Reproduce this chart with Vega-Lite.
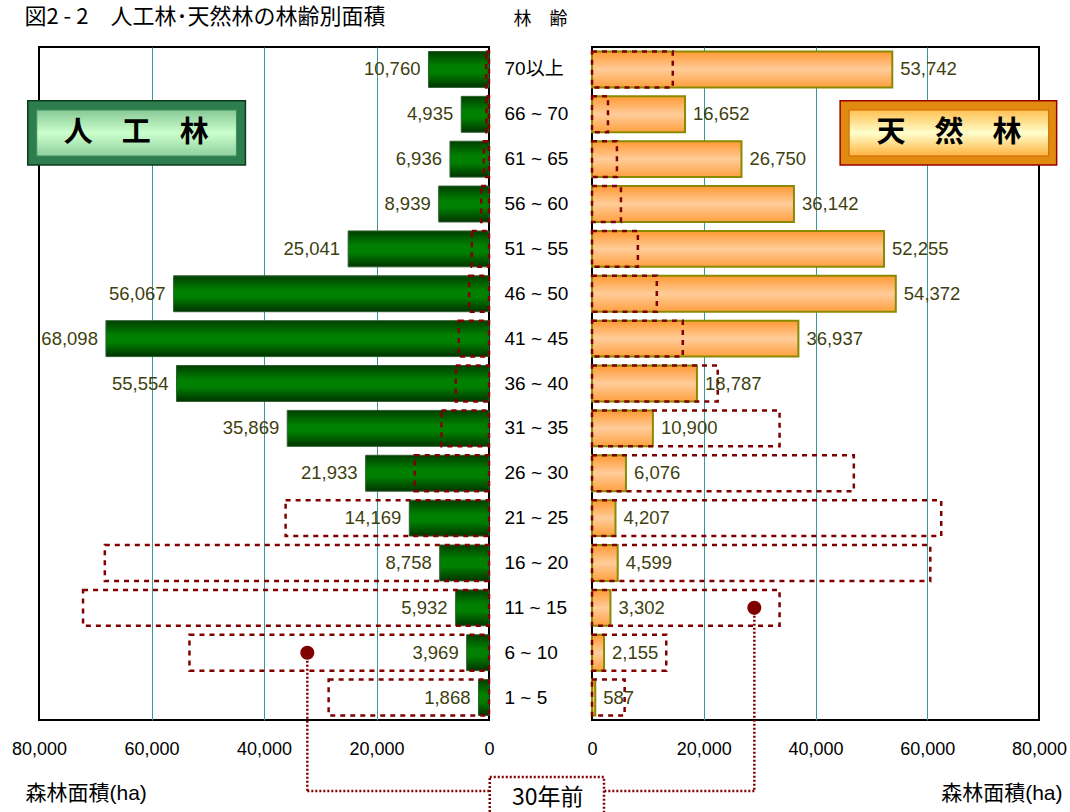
{
  "$schema": "https://vega.github.io/schema/vega-lite/v6.json",
  "background": "white",
  "padding": {"left": 10, "top": 5, "right": 2, "bottom": 0},
  "bounds": "flush",
  "spacing": 0,
  "config": {
    "font": "Liberation Sans, Noto Sans CJK JP, sans-serif",
    "view": {"stroke": "black", "strokeWidth": 2},
    "axis": {"labelFont": "Liberation Sans, Noto Sans CJK JP", "titleFont": "Liberation Sans, Noto Sans CJK JP"}
  },
  "datasets": {
    "forest": [
      {"age": "70以上", "planted": 10760, "planted30": 500, "natural": 53742, "natural30": 14460},
      {"age": "66 ~ 70", "planted": 4935, "planted30": 450, "natural": 16652, "natural30": 2860},
      {"age": "61 ~ 65", "planted": 6936, "planted30": 925, "natural": 26750, "natural30": 4460},
      {"age": "56 ~ 60", "planted": 8939, "planted30": 1390, "natural": 36142, "natural30": 5180},
      {"age": "51 ~ 55", "planted": 25041, "planted30": 3060, "natural": 52255, "natural30": 8210},
      {"age": "46 ~ 50", "planted": 56067, "planted30": 3520, "natural": 54372, "natural30": 11600},
      {"age": "41 ~ 45", "planted": 68098, "planted30": 5375, "natural": 36937, "natural30": 16250},
      {"age": "36 ~ 40", "planted": 55554, "planted30": 5910, "natural": 18787, "natural30": 22500},
      {"age": "31 ~ 35", "planted": 35869, "planted30": 8450, "natural": 10900, "natural30": 33570},
      {"age": "26 ~ 30", "planted": 21933, "planted30": 13200, "natural": 6076, "natural30": 46860},
      {"age": "21 ~ 25", "planted": 14169, "planted30": 36160, "natural": 4207, "natural30": 62500},
      {"age": "16 ~ 20", "planted": 8758, "planted30": 68300, "natural": 4599, "natural30": 60540},
      {"age": "11 ~ 15", "planted": 5932, "planted30": 72170, "natural": 3302, "natural30": 33570},
      {"age": "6 ~ 10", "planted": 3969, "planted30": 53250, "natural": 2155, "natural30": 13290},
      {"age": "1 ~ 5", "planted": 1868, "planted30": 28510, "natural": 587, "natural30": 5840}
    ]
  },
  "hconcat": [
    {
      "width": 450,
      "height": 673,
      "title": {"text": "図2 - 2　人工林･天然林の林齢別面積", "anchor": "start", "dx": 13, "offset": 18, "fontSize": 22, "fontWeight": "normal", "font": "Noto Sans CJK JP", "color": "black"},
      "resolve": {"scale": {"y": "independent"}},
      "layer": [
        {
          "data": {"name": "forest"},
          "encoding": {
            "y": {"field": "age", "type": "nominal", "sort": null, "axis": null, "scale": {"paddingInner": 0.2, "paddingOuter": 0.1}},
            "x": {
              "field": "planted", "type": "quantitative",
              "scale": {"domain": [0, 80000], "reverse": true, "nice": false},
              "axis": {
                "values": [0, 20000, 40000, 60000, 80000], "labelExpr": "format(datum.value, ',')",
                "title": "森林面積(ha)", "titleFontSize": 21, "titleFontWeight": "normal", "titleColor": "black",
                "titleAnchor": "start", "titleAlign": "left", "titleX": -14, "titleY": 73, "titleBaseline": "middle",
                "labelFontSize": 18, "labelColor": "black", "labelPadding": 20, "labelFlush": false,
                "ticks": false, "domain": false, "grid": true,
                "gridColor": {"condition": {"test": "datum.value == 0 || datum.value == 80000", "value": "transparent"}, "value": "#3a9a9a"}
              }
            }
          },
          "layer": [
            {"mark": {"type": "bar", "stroke": "#2f5f2f", "strokeWidth": 1,
              "fill": {"gradient": "linear", "x1": 0, "y1": 0, "x2": 0, "y2": 1, "stops": [
                {"offset": 0, "color": "#003f00"}, {"offset": 0.4, "color": "#008000"}, {"offset": 0.6, "color": "#008000"}, {"offset": 1, "color": "#003300"}]}}},
            {"mark": {"type": "bar", "fillOpacity": 0, "stroke": "#800000", "strokeWidth": 2.5, "strokeDash": [5, 5]},
              "encoding": {"x": {"field": "planted30", "type": "quantitative"}}},
            {"mark": {"type": "text", "align": "right", "baseline": "middle", "dx": -8, "fontSize": 18.5, "color": "#403f10"},
              "encoding": {"text": {"field": "planted", "type": "quantitative", "format": ","}}}
          ]
        },
        {
          "data": {"values": [{}]},
          "layer": [
            {"mark": {"type": "rule", "stroke": "#800000", "strokeWidth": 2.5, "strokeDash": [2, 2]},
              "encoding": {"x": {"datum": 32300}, "y": {"datum": 13.5, "type": "quantitative", "scale": {"domain": [0, 15], "reverse": true, "nice": false, "zero": false}, "axis": null}, "y2": {"datum": 16.58}}},
            {"mark": {"type": "rule", "stroke": "#800000", "strokeWidth": 2.5, "strokeDash": [2, 2]},
              "encoding": {"x": {"datum": 32300}, "x2": {"datum": 0}, "y": {"datum": 16.58, "type": "quantitative", "scale": {"domain": [0, 15], "reverse": true, "nice": false, "zero": false}, "axis": null}}},
            {"mark": {"type": "point", "shape": "circle", "filled": true, "size": 200, "color": "#800000", "opacity": 1},
              "encoding": {"x": {"datum": 32300}, "y": {"datum": 13.5, "type": "quantitative", "scale": {"domain": [0, 15], "reverse": true, "nice": false, "zero": false}, "axis": null}}},
            {"mark": {"type": "rect", "fill": "#2e7d4e", "stroke": "#0b3b1b", "strokeWidth": 1.5},
              "encoding": {"x": {"datum": 82000}, "x2": {"datum": 43300}, "y": {"datum": 1.2, "type": "quantitative", "scale": {"domain": [0, 15], "reverse": true, "nice": false, "zero": false}, "axis": null}, "y2": {"datum": 2.63}}},
            {"mark": {"type": "rect", "stroke": "#3e8e5e", "strokeWidth": 1,
              "fill": {"gradient": "linear", "x1": 0, "y1": 0, "x2": 0, "y2": 1, "stops": [
                {"offset": 0, "color": "#86c996"}, {"offset": 0.5, "color": "#ccffcc"}, {"offset": 1, "color": "#8fcf9f"}]}},
              "encoding": {"x": {"datum": 80400}, "x2": {"datum": 44900}, "y": {"datum": 1.404, "type": "quantitative", "scale": {"domain": [0, 15], "reverse": true, "nice": false, "zero": false}, "axis": null}, "y2": {"datum": 2.429}}},
            {"mark": {"type": "text", "text": "人　工　林", "fontSize": 29, "fontWeight": "bold", "font": "Noto Sans CJK JP", "color": "black", "align": "center", "baseline": "middle"},
              "encoding": {"x": {"datum": 62700}, "y": {"datum": 1.917, "type": "quantitative", "scale": {"domain": [0, 15], "reverse": true, "nice": false, "zero": false}, "axis": null}}}
          ]
        }
      ]
    },
    {
      "width": 103,
      "height": 673,
      "view": {"stroke": null},
      "title": {"text": "林　齢", "anchor": "middle", "offset": 18, "fontSize": 18, "fontWeight": "normal", "font": "Noto Sans CJK JP", "color": "black"},
      "data": {"name": "forest"},
      "mark": {"type": "text", "align": "left", "baseline": "middle", "dx": -36, "fontSize": 19, "color": "black"},
      "encoding": {
        "y": {"field": "age", "type": "nominal", "sort": null, "axis": null, "scale": {"paddingInner": 0.2, "paddingOuter": 0.1}},
        "text": {"field": "age"}
      }
    },
    {
      "width": 447,
      "height": 673,
      "resolve": {"scale": {"y": "independent"}},
      "layer": [
        {
          "data": {"name": "forest"},
          "encoding": {
            "y": {"field": "age", "type": "nominal", "sort": null, "axis": null, "scale": {"paddingInner": 0.2, "paddingOuter": 0.1}},
            "x": {
              "field": "natural", "type": "quantitative",
              "scale": {"domain": [0, 80000], "nice": false},
              "axis": {
                "values": [0, 20000, 40000, 60000, 80000], "labelExpr": "format(datum.value, ',')",
                "title": "森林面積(ha)", "titleFontSize": 21, "titleFontWeight": "normal", "titleColor": "black",
                "titleAnchor": "end", "titleAlign": "right", "titleX": 470, "titleY": 73, "titleBaseline": "middle",
                "labelFontSize": 18, "labelColor": "black", "labelPadding": 20, "labelFlush": false,
                "ticks": false, "domain": false, "grid": true,
                "gridColor": {"condition": {"test": "datum.value == 0 || datum.value == 80000", "value": "transparent"}, "value": "#3a9a9a"}
              }
            }
          },
          "layer": [
            {"mark": {"type": "bar", "stroke": "#8a8a00", "strokeWidth": 2,
              "fill": {"gradient": "linear", "x1": 0, "y1": 0, "x2": 0, "y2": 1, "stops": [
                {"offset": 0, "color": "#ff9933"}, {"offset": 0.5, "color": "#ffcc99"}, {"offset": 1, "color": "#ffa040"}]}}},
            {"mark": {"type": "bar", "fillOpacity": 0, "stroke": "#800000", "strokeWidth": 2.5, "strokeDash": [5, 5]},
              "encoding": {"x": {"field": "natural30", "type": "quantitative"}}},
            {"mark": {"type": "text", "align": "left", "baseline": "middle", "dx": 8, "fontSize": 18.5, "color": "#403f10"},
              "encoding": {"text": {"field": "natural", "type": "quantitative", "format": ","}}}
          ]
        },
        {
          "data": {"values": [{}]},
          "layer": [
            {"mark": {"type": "rule", "stroke": "#800000", "strokeWidth": 2.5, "strokeDash": [2, 2]},
              "encoding": {"x": {"datum": 29050}, "y": {"datum": 12.5, "type": "quantitative", "scale": {"domain": [0, 15], "reverse": true, "nice": false, "zero": false}, "axis": null}, "y2": {"datum": 16.58}}},
            {"mark": {"type": "rule", "stroke": "#800000", "strokeWidth": 2.5, "strokeDash": [2, 2]},
              "encoding": {"x": {"datum": 29050}, "x2": {"datum": 2150}, "y": {"datum": 16.58, "type": "quantitative", "scale": {"domain": [0, 15], "reverse": true, "nice": false, "zero": false}, "axis": null}}},
            {"mark": {"type": "point", "shape": "circle", "filled": true, "size": 200, "color": "#800000", "opacity": 1},
              "encoding": {"x": {"datum": 29050}, "y": {"datum": 12.5, "type": "quantitative", "scale": {"domain": [0, 15], "reverse": true, "nice": false, "zero": false}, "axis": null}}},
            {"mark": {"type": "rect", "fill": "white", "stroke": "#800000", "strokeWidth": 2.5, "strokeDash": [2, 2]},
              "encoding": {"x": {"datum": -18300}, "x2": {"datum": 2150}, "y": {"datum": 16.27, "type": "quantitative", "scale": {"domain": [0, 15], "reverse": true, "nice": false, "zero": false}, "axis": null}, "y2": {"datum": 17.5}}},
            {"mark": {"type": "text", "text": "30年前", "fontSize": 23, "font": "Noto Sans CJK JP", "color": "black", "align": "center", "baseline": "middle"},
              "encoding": {"x": {"datum": -7900}, "y": {"datum": 16.74, "type": "quantitative", "scale": {"domain": [0, 15], "reverse": true, "nice": false, "zero": false}, "axis": null}}},
            {"mark": {"type": "rect", "fill": "#e08a10", "stroke": "#990000", "strokeWidth": 1.5},
              "encoding": {"x": {"datum": 44410}, "x2": {"datum": 83160}, "y": {"datum": 1.2, "type": "quantitative", "scale": {"domain": [0, 15], "reverse": true, "nice": false, "zero": false}, "axis": null}, "y2": {"datum": 2.63}}},
            {"mark": {"type": "rect", "stroke": "#cc6600", "strokeWidth": 1,
              "fill": {"gradient": "linear", "x1": 0, "y1": 0, "x2": 0, "y2": 1, "stops": [
                {"offset": 0, "color": "#ffc050"}, {"offset": 0.5, "color": "#ffffcc"}, {"offset": 1, "color": "#ffb340"}]}},
              "encoding": {"x": {"datum": 46020}, "x2": {"datum": 81730}, "y": {"datum": 1.404, "type": "quantitative", "scale": {"domain": [0, 15], "reverse": true, "nice": false, "zero": false}, "axis": null}, "y2": {"datum": 2.429}}},
            {"mark": {"type": "text", "text": "天　然　林", "fontSize": 29, "fontWeight": "bold", "font": "Noto Sans CJK JP", "color": "black", "align": "center", "baseline": "middle"},
              "encoding": {"x": {"datum": 63900}, "y": {"datum": 1.917, "type": "quantitative", "scale": {"domain": [0, 15], "reverse": true, "nice": false, "zero": false}, "axis": null}}}
          ]
        }
      ]
    }
  ]
}
